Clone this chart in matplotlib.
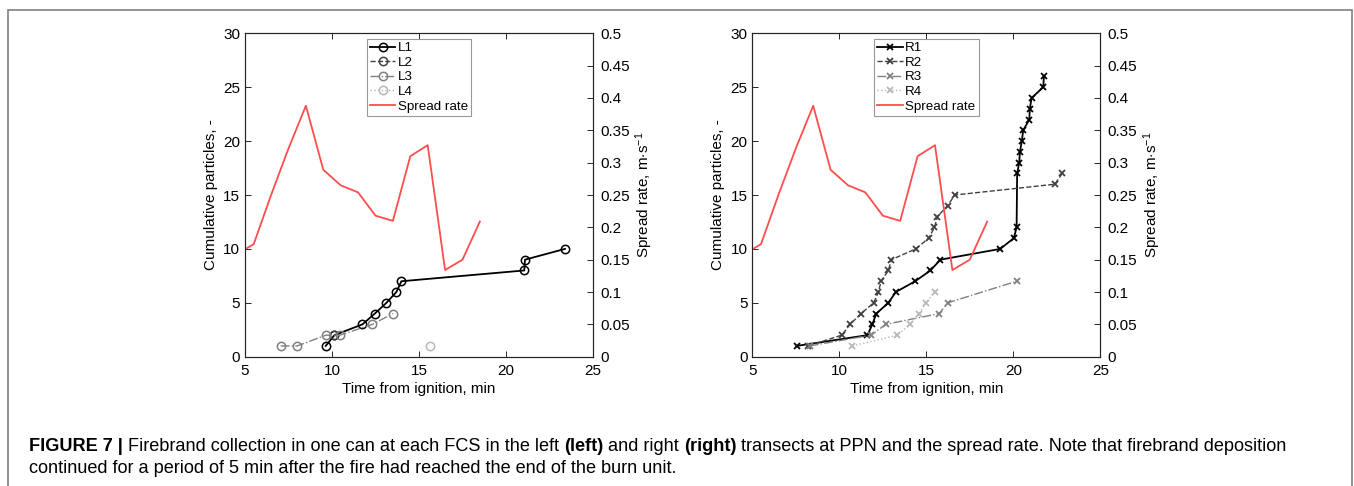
import matplotlib
matplotlib.use("Agg")
import matplotlib.pyplot as plt
from matplotlib.ticker import FuncFormatter
from matplotlib.patches import Rectangle

plt.rcParams['font.family'] = ['Liberation Sans', 'DejaVu Sans']
plt.rcParams['mathtext.fontset'] = 'custom'
plt.rcParams['mathtext.rm'] = 'Liberation Sans'
plt.rcParams['mathtext.it'] = 'Liberation Sans:italic'

# ---- data ----
rate_t = [5.0, 5.5, 6.5, 7.5, 8.5, 9.5, 10.5, 11.5, 12.5, 13.5, 14.5, 15.5, 16.5, 17.5, 18.5]
rate_v = [0.166, 0.174, 0.250, 0.322, 0.388, 0.289, 0.265, 0.254, 0.218, 0.210, 0.310, 0.327, 0.134, 0.150, 0.209]

L1_t = [9.64, 10.14, 11.75, 12.46, 13.13, 13.70, 13.99, 21.05, 21.09, 23.39]
L1_n = [1, 2, 3, 4, 5, 6, 7, 8, 9, 10]
L2_t = [10.14]
L2_n = [2]
L3_t = [7.05, 8.00, 9.66, 10.46, 12.32, 13.50]
L3_n = [1, 1, 2, 2, 3, 4]
L4_t = [15.66]
L4_n = [1]

R1_t = [7.55, 11.62, 11.90, 12.13, 12.82, 13.25, 14.36, 15.24, 15.81, 19.25, 20.03, 20.19,
        20.22, 20.34, 20.38, 20.49, 20.57, 20.92, 20.95, 21.05, 21.72, 21.76]
R1_n = [1, 2, 3, 4, 5, 6, 7, 8, 9, 10, 11, 12, 17, 18, 19, 20, 21, 22, 23, 24, 25, 26]
R2_t = [8.22, 10.14, 10.62, 11.25, 11.98, 12.25, 12.40, 12.82, 12.99, 14.40, 15.14, 15.47,
        15.64, 16.22, 16.64, 22.39, 22.81]
R2_n = [1, 2, 3, 4, 5, 6, 7, 8, 9, 10, 11, 12, 13, 14, 15, 16, 17]
R3_t = [8.30, 11.83, 12.67, 15.74, 16.24, 20.19]
R3_n = [1, 2, 3, 4, 5, 7]
R4_t = [10.75, 13.34, 14.07, 14.60, 14.97, 15.49]
R4_n = [1, 2, 3, 4, 5, 6]

x_ticks = [5, 10, 15, 20, 25]
y_ticks = [0, 5, 10, 15, 20, 25, 30]
r_ticks = [0, 0.05, 0.1, 0.15, 0.2, 0.25, 0.3, 0.35, 0.4, 0.45, 0.5]

W, H = 1354, 486
fig = plt.figure(figsize=(W / 100, H / 100), dpi=100)

AX_C = '#262626'
RED = '#ff4d4d'
FS = 11

def make_panel(left_px, series, marker, ms, mew):
    ax = fig.add_axes([left_px / W, 1 - 356.7 / H, 348 / W, 323.4 / H])
    ax2 = ax.twinx()
    handles = []
    for (t, n, col, ls, lw, lab) in series:
        h, = ax.plot(t, n, color=col, linestyle=ls, lw=lw, marker=marker, ms=ms,
                     mew=mew, mfc='none', mec=col, label=lab)
        handles.append(h)
    hr, = ax2.plot(rate_t, rate_v, color=RED, lw=1.3, label='Spread rate')
    handles.append(hr)
    ax.set_xlim(5, 25)
    ax.set_ylim(0, 30)
    ax2.set_ylim(0, 0.5)
    ax.set_xticks(x_ticks)
    ax.set_yticks(y_ticks)
    ax2.set_yticks(r_ticks)
    ax2.yaxis.set_major_formatter(FuncFormatter(lambda v, p: '%g' % v))
    for a in (ax, ax2):
        for s in a.spines.values():
            s.set_color(AX_C)
            s.set_linewidth(0.8)
    ax.tick_params(direction='in', length=4, width=0.7, colors=AX_C, labelsize=FS,
                   top=True, right=False, labelcolor='black')
    ax.tick_params(axis='x', pad=5)
    ax2.tick_params(direction='in', length=4, width=0.7, colors=AX_C, labelsize=FS,
                    labelcolor='black', pad=5)
    ax.set_xlabel('Time from ignition, min', fontsize=FS, labelpad=3)
    ax.set_ylabel('Cumulative particles, -', fontsize=FS, labelpad=4)
    ax2.set_ylabel('Spread rate, m$\\cdot$s$^{-1}$', fontsize=FS, labelpad=3)
    leg = ax2.legend(handles=handles, loc='upper center', bbox_to_anchor=(0.5, 1.0),
                     fontsize=9.6, frameon=True, fancybox=False, framealpha=1,
                     edgecolor='#999999', borderpad=0.25, labelspacing=0.17,
                     handlelength=1.9, handletextpad=0.2, borderaxespad=0.4)
    leg.get_frame().set_linewidth(0.8)
    return ax, ax2

left_series = [
    (L1_t, L1_n, 'black', '-', 1.3, 'L1'),
    (L2_t, L2_n, '#404040', '--', 1.0, 'L2'),
    (L3_t, L3_n, '#808080', '-.', 1.0, 'L3'),
    (L4_t, L4_n, '#b8b8b8', ':', 1.0, 'L4'),
]
right_series = [
    (R1_t, R1_n, 'black', '-', 1.3, 'R1'),
    (R2_t, R2_n, '#404040', '--', 1.0, 'R2'),
    (R3_t, R3_n, '#808080', '-.', 1.0, 'R3'),
    (R4_t, R4_n, '#b8b8b8', ':', 1.0, 'R4'),
]
make_panel(245, left_series, 'o', 6, 1.1)
make_panel(752.3, right_series, 'x', 5, 1.3)

# figure border
fig.patches.append(Rectangle((8 / W, -0.2), (1351.5 - 8) / W, 1.2 - 10 / H,
                             transform=fig.transFigure, fill=False,
                             edgecolor='#808080', lw=1.2))

# caption with mixed bold / normal segments
fig.canvas.draw()
renderer = fig.canvas.get_renderer()
CFS = 13.1

def place_line(segments, x_px, y_px):
    x = x_px
    for txt, bold in segments:
        t = fig.text(x / W, 1 - y_px / H, txt, fontsize=CFS,
                     fontweight='bold' if bold else 'normal', va='baseline', ha='left')
        bb = t.get_window_extent(renderer=renderer)
        x += bb.width

place_line([('FIGURE 7 | ', True),
            ('Firebrand collection in one can at each FCS in the left ', False),
            ('(left)', True),
            (' and right ', False),
            ('(right)', True),
            (' transects at PPN and the spread rate. Note that firebrand deposition', False)],
           29, 451)
place_line([('continued for a period of 5 min after the fire had reached the end of the burn unit.', False)],
           29, 473)

fig.savefig('out.png', dpi=100)
